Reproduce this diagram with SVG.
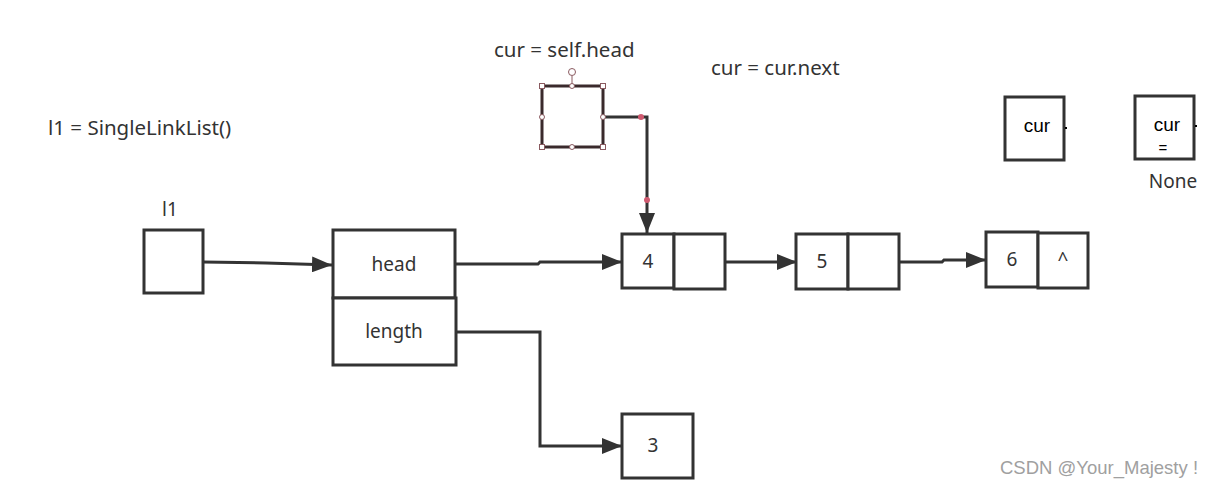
<svg xmlns="http://www.w3.org/2000/svg" width="1213" height="487" viewBox="0 0 1213 487">
<defs>
<style>
.box{fill:#fff;stroke:#333;stroke-width:3}
.ln{fill:none;stroke:#333;stroke-width:3}
.t{font-family:"Noto Sans","Liberation Sans",sans-serif;font-size:19px;fill:#333}
.big{font-size:20.5px}
.tc{text-anchor:middle}
.b{font-family:"Liberation Sans",sans-serif;font-size:19px;fill:#000}
.h{fill:#fff;stroke:#8a5a60;stroke-width:1}
</style>
<marker id="arb" markerWidth="20" markerHeight="16" refX="20" refY="8" orient="auto" markerUnits="userSpaceOnUse" viewBox="0 0 20 16">
<path d="M0,0 L20,8 L0,16 z" fill="#333"/>
</marker>
</defs>
<rect width="1213" height="487" fill="#fff"/>

<text class="t big" x="48" y="135">l1 = SingleLinkList()</text>
<text class="t big" x="494" y="57">cur = self.head</text>
<text class="t big" x="711" y="75">cur = cur.next</text>

<g id="connectors">
<path class="ln" d="M203,262 L266,263 L332,265" marker-end="url(#arb)"/>
<path class="ln" d="M455,264 L538,264 L540,262 L622,262" marker-end="url(#arb)"/>
<path class="ln" d="M725,262 L797,262" marker-end="url(#arb)"/>
<path class="ln" d="M899,262 L942,262 L944,260 L986,260" marker-end="url(#arb)"/>
<path class="ln" d="M456,332 L540,332 L540,446 L622,446" marker-end="url(#arb)"/>
<path class="ln" d="M603,117 L647,117 L647,233" marker-end="url(#arb)"/>
<circle cx="641" cy="117" r="3" fill="#d05a70"/>
<circle cx="647" cy="200" r="3" fill="#d05a70"/>
</g>

<g id="l1">
<text class="t tc" x="170" y="216">l1</text>
<rect class="box" x="144" y="230" width="59" height="63"/>
</g>

<g id="list">
<rect class="box" x="333" y="230" width="122" height="68"/>
<text class="t tc" x="394" y="271">head</text>
<rect class="box" x="333" y="298" width="123" height="67"/>
<text class="t tc" x="394" y="338">length</text>
</g>

<g id="node4">
<rect class="box" x="622" y="234" width="52" height="54"/>
<rect class="box" x="674" y="234" width="51" height="55"/>
<text class="t tc" x="648" y="268">4</text>
</g>

<g id="node5">
<rect class="box" x="796" y="234" width="52" height="55"/>
<rect class="box" x="848" y="234" width="51" height="55"/>
<text class="t tc" x="822" y="268">5</text>
</g>

<g id="node6">
<rect class="box" x="986" y="232" width="52" height="55"/>
<rect class="box" x="1038" y="233" width="50" height="55"/>
<text class="t tc" x="1012" y="266">6</text>
<text class="t tc" x="1063" y="266">^</text>
</g>

<g id="len3">
<rect class="box" x="622" y="414" width="71" height="64"/>
<text class="t tc" x="653" y="452">3</text>
</g>

<g id="cur-selected">
<line x1="572" y1="76" x2="572" y2="86" stroke="#8a5a60" stroke-width="1"/>
<rect x="542" y="86" width="61" height="61" fill="none" stroke="#3a2a2c" stroke-width="3"/>
<circle class="h" cx="572" cy="72" r="3.5"/>
<rect class="h" x="539.5" y="83.5" width="5" height="5"/>
<rect class="h" x="600.5" y="83.5" width="5" height="5"/>
<rect class="h" x="539.5" y="144.5" width="5" height="5"/>
<rect class="h" x="600.5" y="144.5" width="5" height="5"/>
<circle class="h" cx="572" cy="86" r="2.5"/>
<circle class="h" cx="572" cy="147" r="2.5"/>
<circle class="h" cx="542" cy="117" r="2.5"/>
<circle class="h" cx="603" cy="117" r="2.5"/>
</g>

<g id="cur1">
<rect class="box" x="1005" y="97" width="59" height="63"/>
<text class="b tc" x="1037" y="132">cur</text>
<rect x="1065" y="127" width="2" height="2" fill="#000"/>
</g>

<g id="cur2">
<rect class="box" x="1135" y="96" width="59" height="63"/>
<text class="b tc" x="1167" y="131">cur</text>
<text class="b tc" x="1163" y="153" style="font-size:15px">=</text>
<rect x="1195" y="125" width="2" height="2" fill="#000"/>
<text class="t tc" x="1173" y="188">None</text>
</g>

<text x="1000" y="474" font-family="Liberation Sans,sans-serif" font-size="18.5" fill="#a0a0a0">CSDN @Your_Majesty !</text>
</svg>
